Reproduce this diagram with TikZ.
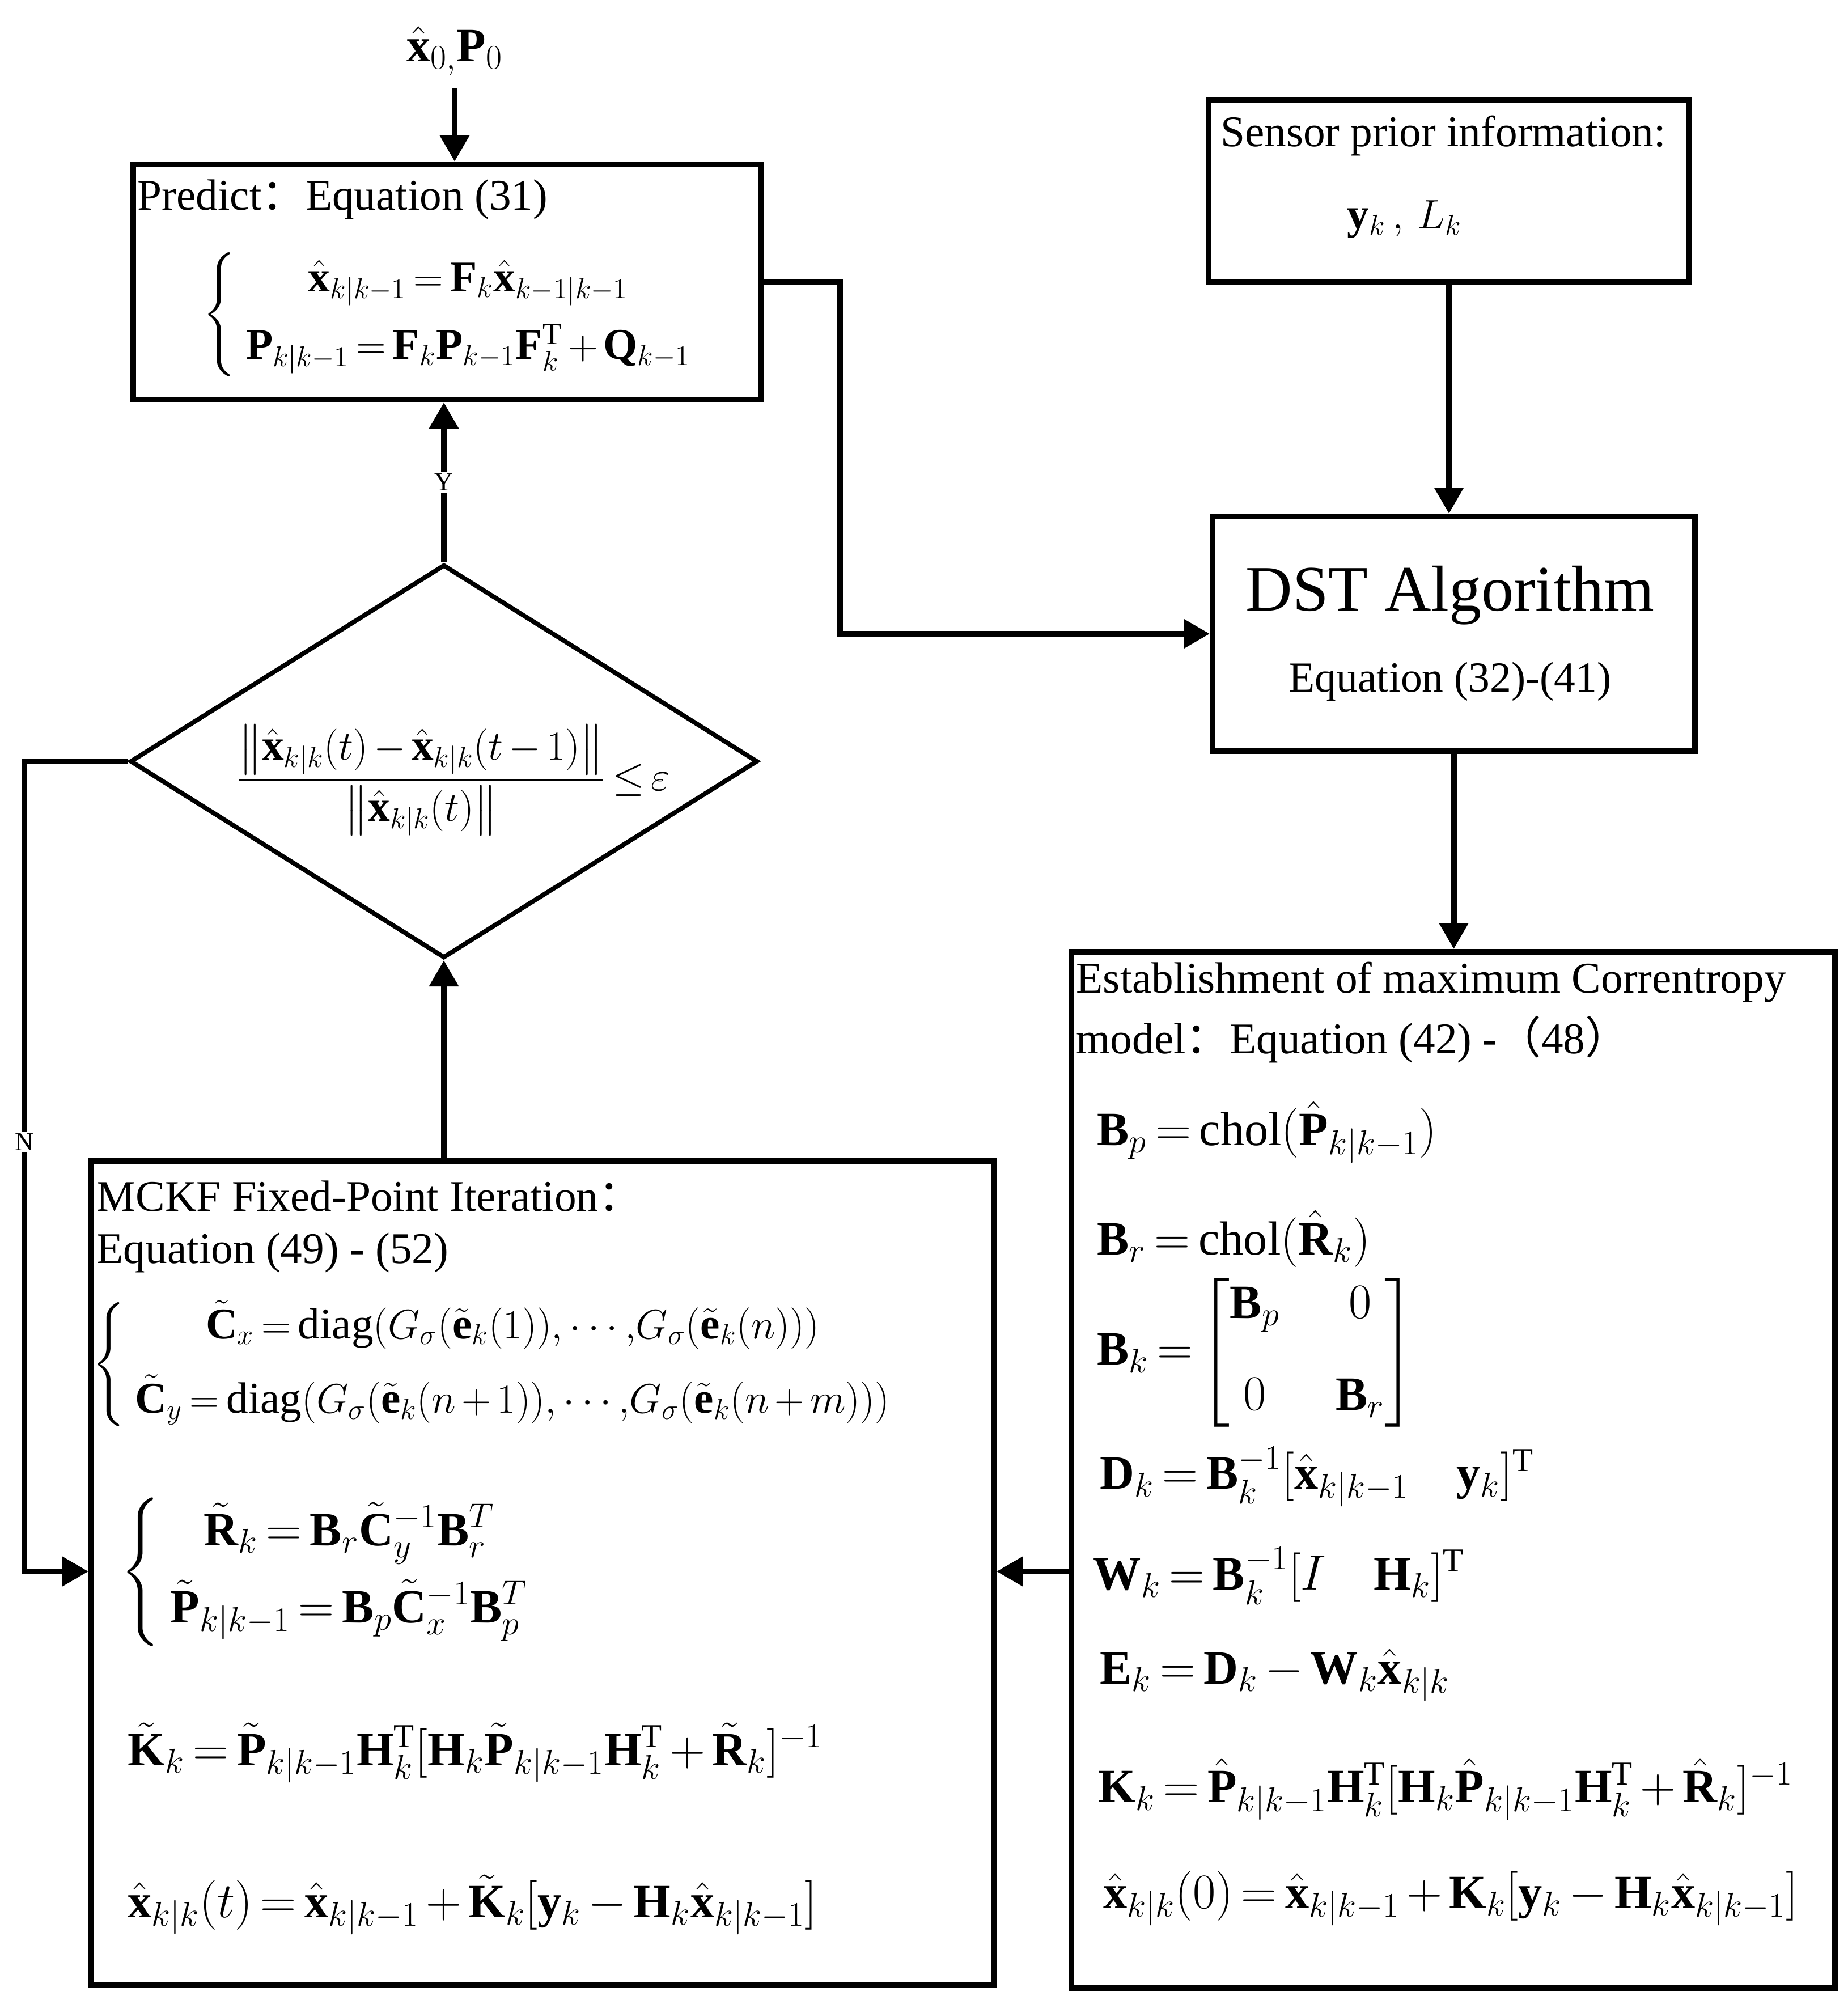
\documentclass[tikz,border=0pt]{standalone}
\usepackage{amsmath}
\usepackage{fontspec}
\setmainfont{Liberation Serif}
\newfontfamily\cjk{Noto Sans CJK SC}
\usetikzlibrary{arrows.meta,shapes.geometric,positioning}

\newcommand{\headfont}{\fontsize{22}{26}\selectfont}
\newcommand{\eqfont}{\fontsize{24}{29}\selectfont}
\newcommand{\predfont}{\fontsize{22}{27}\selectfont}
\newcommand{\diagfont}{\fontsize{22}{27}\selectfont}
\newcommand{\dstfont}{\fontsize{32.5}{38}\selectfont}
\newcommand{\subfont}{\fontsize{21.5}{25}\selectfont}
\newcommand{\tagfont}{\fontsize{13}{15}\selectfont}
\thickmuskip=3mu plus 2mu
\medmuskip=2.5mu plus 2mu

\begin{document}
\begin{tikzpicture}[
  box/.style={draw, line width=1mm, inner sep=0pt, anchor=north west},
  arr/.style={line width=1mm, -{Triangle[length=4.6mm,width=5mm]}},
  lbl/.style={anchor=west, inner sep=0pt, font=\headfont},
  eq/.style={anchor=west, inner sep=0pt, font=\eqfont},
  tag/.style={fill=white, inner sep=1pt, font=\tagfont}
]
\useasboundingbox (0,0) rectangle (32.59,-35.28);

% blocks
\node[box, minimum width=11.07cm, minimum height=4.15cm] (predict) at (2.30,-2.85) {};
\node[box, minimum width=8.48cm, minimum height=3.21cm] (sensor) at (21.27,-1.71) {};
\node[box, minimum width=8.51cm, minimum height=4.14cm] (dst) at (21.34,-9.06) {};
\node[box, minimum width=13.47cm, minimum height=18.28cm] (mc) at (18.85,-16.74) {};
\node[box, minimum width=15.92cm, minimum height=14.54cm] (mckf) at (1.56,-20.43) {};
\node[draw, diamond, line width=0.8mm, minimum width=11.07cm, minimum height=6.94cm, inner sep=0pt] (check) at (7.83,-13.43) {};

% start
\node[font=\eqfont] (init) at (8.02,-0.90) {$\hat{\mathbf{x}}_{0,}\mathbf{P}_{0}$};

% predict
\node[lbl] (predhead) at (2.42,-3.52) {Predict{\cjk ：}Equation (31)};
\node[eq, font=\predfont] (predeq) at (3.57,-5.55) {$\left\{\begin{array}{c}
  \hat{\mathbf{x}}_{k|k-1}=\mathbf{F}_k\hat{\mathbf{x}}_{k-1|k-1}\\[2.5mm]
  \mathbf{P}_{k|k-1}=\mathbf{F}_k\mathbf{P}_{k-1}\mathbf{F}_k^{\mathrm{T}}+\mathbf{Q}_{k-1}
  \end{array}\right.$};

% sensor and DST
\node[font=\headfont] (senshead) at (25.46,-2.40) {Sensor prior information:};
\node[eq, font=\headfont] (sensval) at (23.76,-3.87) {$\mathbf{y}_k\,,\,L_k$};
\node[font=\dstfont] (dsthead) at (25.58,-10.50) {DST Algorithm};
\node[font=\subfont] (dstref) at (25.58,-12.02) {Equation (32)-(41)};

% decision
\node[font=\headfont] (crit) at (8.00,-13.76) {$\displaystyle\frac{\left\|\hat{\mathbf{x}}_{k|k}(t)-\hat{\mathbf{x}}_{k|k}(t-1)\right\|}{\left\|\hat{\mathbf{x}}_{k|k}(t)\right\|}\leq\varepsilon$};

% maximum correntropy model
\node[lbl] (mchead1) at (18.98,-17.33) {Establishment of maximum Correntropy};
\node[lbl] (mchead2) at (18.98,-18.34) {model{\cjk ：}Equation (42) -{\cjk （}48{\cjk ）}};
\node[eq] (bp) at (19.35,-19.97) {$\mathbf{B}_p=\mathrm{chol}(\hat{\mathbf{P}}_{k|k-1})$};
\node[eq] (br) at (19.35,-21.85) {$\mathbf{B}_r=\mathrm{chol}(\hat{\mathbf{R}}_k)$};
\node[eq] (bk) at (19.35,-23.86) {\arraycolsep=14pt$\mathbf{B}_k=\begin{bmatrix}\mathbf{B}_p & 0\\[6mm] 0 & \mathbf{B}_r\end{bmatrix}$};
\node[eq] (dk) at (19.40,-26.05) {$\mathbf{D}_k=\mathbf{B}_k^{-1}[\hat{\mathbf{x}}_{k|k-1}\quad\mathbf{y}_k]^{\mathrm{T}}$};
\node[eq] (wk) at (19.28,-27.80) {$\mathbf{W}_k=\mathbf{B}_k^{-1}[I\quad\mathbf{H}_k]^{\mathrm{T}}$};
\node[eq] (ek) at (19.40,-29.55) {$\mathbf{E}_k=\mathbf{D}_k-\mathbf{W}_k\hat{\mathbf{x}}_{k|k}$};
\node[eq] (kk) at (19.37,-31.56) {$\mathbf{K}_k=\hat{\mathbf{P}}_{k|k-1}\mathbf{H}_k^{\mathrm{T}}[\mathbf{H}_k\hat{\mathbf{P}}_{k|k-1}\mathbf{H}_k^{\mathrm{T}}+\hat{\mathbf{R}}_k]^{-1}$};
\node[eq] (x0) at (19.46,-33.49) {$\hat{\mathbf{x}}_{k|k}(0)=\hat{\mathbf{x}}_{k|k-1}+\mathbf{K}_k[\mathbf{y}_k-\mathbf{H}_k\hat{\mathbf{x}}_{k|k-1}]$};

% fixed-point iteration
\node[lbl] (fphead1) at (1.70,-21.10) {MCKF Fixed-Point Iteration{\cjk ：}};
\node[lbl] (fphead2) at (1.70,-22.10) {Equation (49) - (52)};
\node[eq, font=\diagfont] (cxy) at (1.62,-24.07) {$\left\{\begin{array}{c}
  \tilde{\mathbf{C}}_x=\mathrm{diag}(G_\sigma(\tilde{\mathbf{e}}_k(1)){,}\cdots{,}G_\sigma(\tilde{\mathbf{e}}_k(n)))\\[3.5mm]
  \tilde{\mathbf{C}}_y=\mathrm{diag}(G_\sigma(\tilde{\mathbf{e}}_k(n+1)){,}\cdots{,}G_\sigma(\tilde{\mathbf{e}}_k(n+m)))
  \end{array}\right.$};
\node[eq] (rp) at (2.12,-27.73) {$\left\{\begin{array}{c}
  \tilde{\mathbf{R}}_k=\mathbf{B}_r\tilde{\mathbf{C}}_y^{-1}\mathbf{B}_r^{T}\\[3mm]
  \tilde{\mathbf{P}}_{k|k-1}=\mathbf{B}_p\tilde{\mathbf{C}}_x^{-1}\mathbf{B}_p^{T}
  \end{array}\right.$};
\node[eq] (kt) at (2.25,-30.92) {$\tilde{\mathbf{K}}_k=\tilde{\mathbf{P}}_{k|k-1}\mathbf{H}_k^{\mathrm{T}}[\mathbf{H}_k\tilde{\mathbf{P}}_{k|k-1}\mathbf{H}_k^{\mathrm{T}}+\tilde{\mathbf{R}}_k]^{-1}$};
\node[eq] (xt) at (2.25,-33.60) {$\hat{\mathbf{x}}_{k|k}(t)=\hat{\mathbf{x}}_{k|k-1}+\tilde{\mathbf{K}}_k[\mathbf{y}_k-\mathbf{H}_k\hat{\mathbf{x}}_{k|k-1}]$};

% connectors
\coordinate (mcin) at (18.85,-27.72);
\coordinate (nturn) at (0.43,-13.43);
\draw[arr, shorten <=1mm] (init.south) -- (init.south |- predict.north);
\draw[arr] (predict.east) -- ++(1.35,0) |- (dst.west);
\draw[arr] (sensor.south) -- (sensor.south |- dst.north);
\draw[arr] (dst.south) -- (dst.south |- mc.north);
\draw[arr] (mc.west |- mcin) -- (mckf.east |- mcin);
\draw[arr] (mckf.north -| check.south) -- (check.south);
\draw[arr] (check.north) -- node[tag] {Y} (check.north |- predict.south);
\draw[arr] (check.west) -- (nturn) -- node[tag, pos=0.47] {N} (nturn |- mcin) -- (mckf.west |- mcin);
\end{tikzpicture}
\end{document}
